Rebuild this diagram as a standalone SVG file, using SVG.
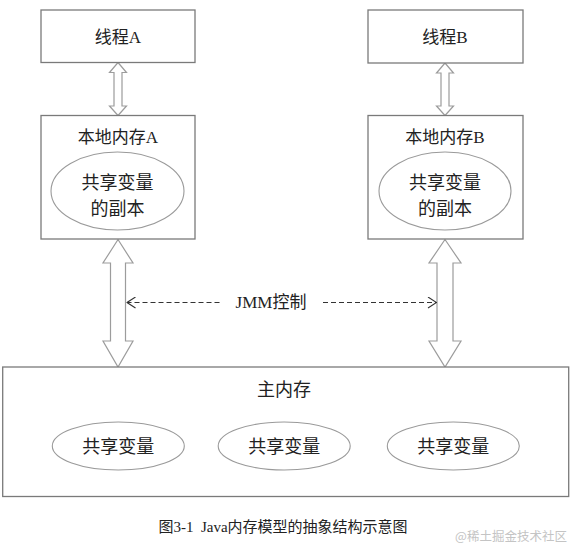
<svg xmlns="http://www.w3.org/2000/svg" width="581" height="557" viewBox="0 0 581 557">
<defs>
<marker id="chev" viewBox="0 0 10 12" refX="10" refY="6" markerWidth="10" markerHeight="12" markerUnits="userSpaceOnUse" orient="auto-start-reverse">
<path d="M1,0.5 L9.5,6 L1,11.5" fill="none" stroke="#333" stroke-width="1.1"/>
</marker>
<style>
.box{fill:#fff;stroke:#7a7a7a;stroke-width:1.3}
.ell{fill:#fff;stroke:#9a9a9a;stroke-width:1.1}
.arr{fill:#fff;stroke:#9c9c9c;stroke-width:1.2;stroke-linejoin:miter}
.t{font-family:"Liberation Serif","Noto Sans CJK SC",serif;fill:#222;text-anchor:middle;dominant-baseline:central}
.dash{stroke:#333;stroke-width:1.1;stroke-dasharray:5 3;fill:none}
</style>
</defs>
<rect width="581" height="557" fill="#fff"/>

<g id="connectors">
<polygon class="arr" points="118,62.5 126.5,72.5 122,72.5 122,106 126.5,106 118,115.5 109.5,106 114,106 114,72.5 109.5,72.5"/>
<polygon class="arr" points="445,63 453.5,73 449,73 449,106 453.5,106 445,115.5 436.5,106 441,106 441,73 436.5,73"/>
<polygon class="arr" points="118,239.5 133,263 125.5,263 125.5,341 133,341 118,367 103,341 110.5,341 110.5,263 103,263"/>
<polygon class="arr" points="445,239.5 461,263 453,263 453,341 461,341 445,367 429,341 437,341 437,263 429,263"/>
<line class="dash" x1="126.5" y1="302.5" x2="222" y2="302.5" marker-start="url(#chev)"/>
<line class="dash" x1="323" y1="302.5" x2="437" y2="302.5" marker-end="url(#chev)"/>
<text class="t" x="271" y="302.5" font-size="17">JMM控制</text>
</g>

<g id="threadA">
<rect class="box" x="41" y="10" width="154" height="52.5"/>
<text class="t" x="118" y="37.5" font-size="17">线程A</text>
</g>
<g id="threadB">
<rect class="box" x="368" y="10" width="155" height="53"/>
<text class="t" x="445" y="37.5" font-size="17">线程B</text>
</g>

<g id="localA">
<rect class="box" x="41" y="115.5" width="154" height="123.5"/>
<text class="t" x="118" y="137" font-size="17">本地内存A</text>
<ellipse class="ell" cx="117.5" cy="191" rx="66.5" ry="39"/>
<text class="t" x="117.5" y="183" font-size="18">共享变量</text>
<text class="t" x="117.5" y="209" font-size="18">的副本</text>
</g>
<g id="localB">
<rect class="box" x="368" y="115.5" width="155" height="123.5"/>
<text class="t" x="445" y="137" font-size="17">本地内存B</text>
<ellipse class="ell" cx="445" cy="191" rx="66" ry="39"/>
<text class="t" x="445" y="183" font-size="18">共享变量</text>
<text class="t" x="445" y="209" font-size="18">的副本</text>
</g>

<g id="mainMemory">
<rect class="box" x="2.7" y="367" width="566" height="129.5"/>
<text class="t" x="284" y="390" font-size="18">主内存</text>
</g>
<g id="shared1">
<ellipse class="ell" cx="118.3" cy="446" rx="66" ry="24"/>
<text class="t" x="118.3" y="447" font-size="18">共享变量</text>
</g>
<g id="shared2">
<ellipse class="ell" cx="284.2" cy="446" rx="66" ry="24"/>
<text class="t" x="284.2" y="447" font-size="18">共享变量</text>
</g>
<g id="shared3">
<ellipse class="ell" cx="453.3" cy="446" rx="66" ry="24"/>
<text class="t" x="453.3" y="447" font-size="18">共享变量</text>
</g>

<text class="t" x="283" y="526.5" font-size="15">图3-1&#160;&#160;Java内存模型的抽象结构示意图</text>
<text class="t" x="511" y="535" font-size="12.5" style="fill:#c4c4c4;font-family:'Noto Sans CJK SC',sans-serif">@稀土掘金技术社区</text>
</svg>
